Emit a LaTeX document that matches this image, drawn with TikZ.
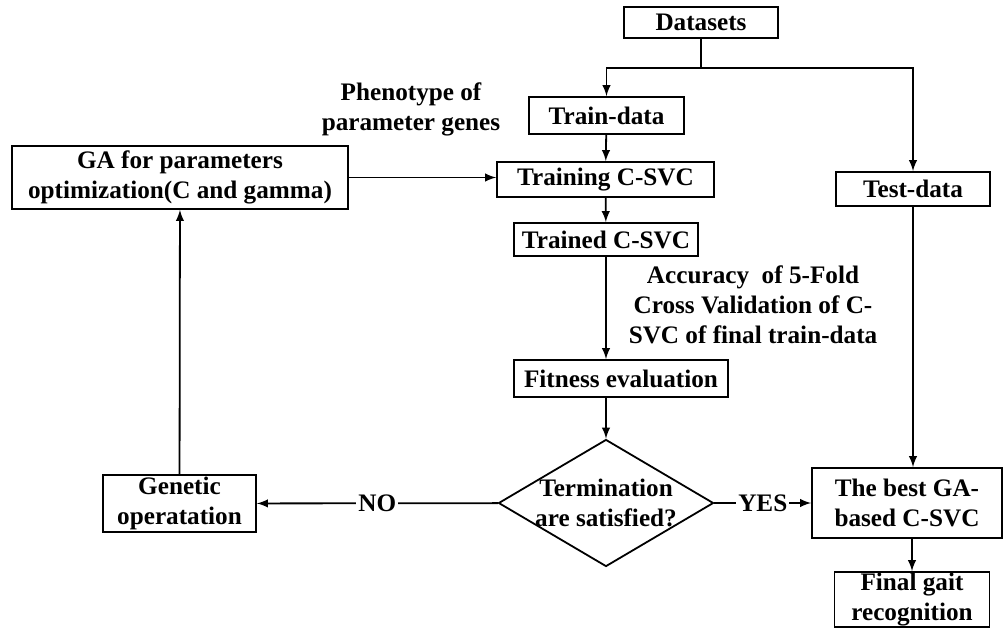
\documentclass[tikz,border=0pt]{standalone}
\usepackage{fontspec}
\setmainfont{Liberation Serif}
\usetikzlibrary{arrows,shapes.geometric}

\begin{document}
\begin{tikzpicture}[x=0.5pt,y=-0.5pt,->,>=latex,line width=0.9pt,
  every node/.style={font=\fontsize{12.6}{15}\selectfont\bfseries,align=center},
  box/.style={draw,inner sep=0pt},
  decide/.style={draw,diamond,inner sep=0pt,minimum width=107.5pt,minimum height=63.5pt}]
  \useasboundingbox (0,0) rectangle (1004,628);
  \node[box,minimum width=77pt,minimum height=15.5pt] (ds) at (701,22.5) {Datasets};
  \node[box,minimum width=77.5pt,minimum height=18.5pt] (train) at (606.5,115.5) {Train-data};
  \node[box,minimum width=108.5pt,minimum height=17.5pt] (trn) at (605.5,179.5) {Training C-SVC};
  \node[box,minimum width=92pt,minimum height=16.5pt] (trd) at (606,239.5) {Trained C-SVC};
  \node[box,minimum width=107pt,minimum height=18.5pt] (fit) at (621,378.5) {Fitness evaluation};
  \node[decide] (term) at (606,503) {};
  \node (termtxt) at (606,503) {Termination\\are satisfied?};
  \node[box,minimum width=77pt,minimum height=17pt] (test) at (913,189) {Test-data};
  \node[box,minimum width=95pt,minimum height=35pt] (best) at (907,503) {The best GA-\\based C-SVC};
  \node[box,minimum width=77.5pt,minimum height=27.5pt] (fin) at (912,599.5) {Final gait\\recognition};
  \node[box,minimum width=168pt,minimum height=31.5pt] (ga) at (180,177.5) {GA for parameters\\optimization(C and gamma)};
  \node[box,minimum width=76.5pt,minimum height=28.5pt] (gen) at (179.5,503.5) {Genetic\\operatation};
  \node (pheno) at (411,109) {Phenotype of\\parameter genes};
  \node (acc) at (753,305) {Accuracy\ \ of 5-Fold\\Cross Validation of C-\\SVC of final train-data};
  \coordinate (sp) at (701,68);
  \draw[-] (ds) -- (sp);
  \draw (sp) -| (train);
  \draw (sp) -| (test);
  \path (train) edge (trn)
  (trn) edge (trd)
  (trd.south) edge (trd.south |- fit.north)
  (term.north |- fit.south) edge (term.north)
  (ga.east) edge (ga.east -| trn.west)
  (term) edge node[fill=white,inner sep=1pt] {NO} (gen)
  (term) edge node[fill=white,inner sep=1pt] {YES} (best)
  (gen) edge (ga)
  (test.south) edge (test.south |- best.north)
  (fin.north |- best.south) edge (fin.north)
  ;
\end{tikzpicture}
\end{document}
